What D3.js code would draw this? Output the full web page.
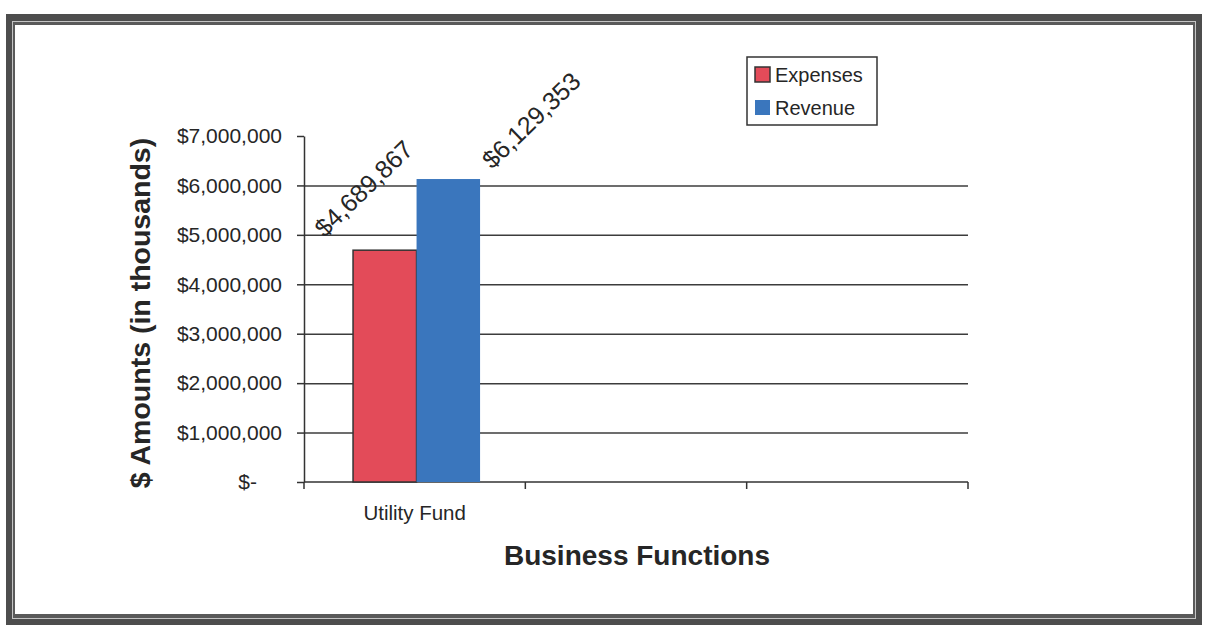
<!DOCTYPE html>
<html>
<head>
<meta charset="utf-8">
<title>Business Functions</title>
<script src="https://d3js.org/d3.v7.min.js"></script>
<style>
body { margin: 0; background: #fff; }
text { font-family: "Liberation Sans", Arial, sans-serif; fill: #262626; }
.axis path, .axis line { stroke: #333; stroke-width: 1.5; fill: none; }
.grid line { stroke: #3c3c3c; stroke-width: 1.5; }
.grid path { stroke-width: 0; }
</style>
</head>
<body>
<script>
// data
var categories = ["Utility Fund", "", ""];
var seriesNames = ["Expenses", "Revenue"];
var expenses = [4689867, null, null];
var revenue = [6129353, null, null];
var yTicks = [0, 1000000, 2000000, 3000000, 4000000, 5000000, 6000000, 7000000];
var colors = ["#e34b59", "#3a76bd"];

var W = 1205, H = 626;
var margin = {top: 136, right: 237, bottom: 144, left: 304},
    w = W - margin.left - margin.right,
    h = H - margin.top - margin.bottom;

var svg = d3.select("body").append("svg")
    .attr("width", W).attr("height", H);

// frame
svg.append("rect").attr("x", 6).attr("y", 14).attr("width", 1196).attr("height", 611).attr("fill", "#4d4d4d");
svg.append("rect").attr("x", 12).attr("y", 21).attr("width", 1184).attr("height", 598).attr("fill", "#c4c4c4");
svg.append("rect").attr("x", 13).attr("y", 22).attr("width", 1182).attr("height", 596).attr("fill", "#5a5a5a");
svg.append("rect").attr("x", 15).attr("y", 25).attr("width", 1178).attr("height", 589).attr("fill", "#fff");

var g = svg.append("g").attr("transform", "translate(" + margin.left + "," + margin.top + ")");

var idx = d3.range(categories.length);
var x = d3.scaleBand().domain(idx).range([0, w]);
var x1 = d3.scaleBand().domain(seriesNames).range([0, x.bandwidth()]).paddingOuter(0.7425).align(0.52);
var y = d3.scaleLinear().domain([0, 7000000]).range([h, 0]);

// gridlines (no line at the top value)
g.append("g").attr("class", "grid")
    .call(d3.axisLeft(y).tickValues(yTicks.filter(function(d) { return d > 0 && d < 7000000; }))
        .tickSize(-w).tickFormat(""));

// y axis
var fmt = d3.format(",");
var yAxis = g.append("g").attr("class", "axis")
    .call(d3.axisLeft(y).tickValues(yTicks).tickSize(7).tickPadding(15).tickSizeOuter(0)
        .tickFormat(function(d) { return d === 0 ? "$-" : "$" + fmt(d); }));
yAxis.selectAll("text").style("font-size", "21px").attr("fill", "#262626")
    .attr("dx", function(d) { return d === 0 ? -25 : 0; });

// x axis line + ticks at band edges
var xa = g.append("g").attr("class", "axis").attr("transform", "translate(0," + h + ")");
xa.append("line").attr("x1", 0).attr("x2", w);
var edges = idx.map(function(i) { return x(i); }).concat([w]);
xa.selectAll(".edge").data(edges).enter().append("line")
    .attr("x1", function(d) { return d; }).attr("x2", function(d) { return d; })
    .attr("y1", 0).attr("y2", 7);
xa.selectAll(".cat").data(idx).enter().append("text")
    .attr("x", function(i) { return x(i) + x.bandwidth() / 2; })
    .attr("y", 38).attr("text-anchor", "middle").style("font-size", "20.5px")
    .text(function(i) { return categories[i]; });

// bars
var rows = idx.map(function(i) {
  return [{s: "Expenses", v: expenses[i], c: colors[0]}, {s: "Revenue", v: revenue[i], c: colors[1]}];
});
var labelShift = {Expenses: [-60, -12], Revenue: [44, -9]};

var groups = g.selectAll(".cat-g").data(idx).enter().append("g")
    .attr("transform", function(i) { return "translate(" + x(i) + ",0)"; });
groups.selectAll("rect").data(function(i) { return rows[i].filter(function(d) { return d.v != null; }); })
  .enter().append("rect")
    .attr("x", function(d) { return x1(d.s); })
    .attr("width", x1.bandwidth())
    .attr("y", function(d) { return y(d.v); })
    .attr("height", function(d) { return h - y(d.v); })
    .attr("fill", function(d) { return d.c; })
    .attr("stroke", function(d) { return d.s === "Expenses" ? "#333" : "none"; })
    .attr("stroke-width", 1.5);

groups.selectAll(".lbl").data(function(i) { return rows[i].filter(function(d) { return d.v != null; }); })
  .enter().append("text")
    .attr("transform", function(d) {
      var cx = x1(d.s) + x1.bandwidth() / 2 + labelShift[d.s][0];
      var cy = y(d.v) + labelShift[d.s][1];
      return "translate(" + cx + "," + cy + ") rotate(-44)";
    })
    .style("font-size", "25px")
    .text(function(d) { return "$" + fmt(d.v); });

// axis titles
svg.append("text").attr("x", 637).attr("y", 565).attr("text-anchor", "middle")
    .style("font-size", "28px").style("font-weight", "bold").attr("fill", "#333")
    .text("Business Functions");
svg.append("text").attr("transform", "translate(150,313) rotate(-90)").attr("text-anchor", "middle")
    .style("font-size", "28.5px").style("font-weight", "bold").attr("fill", "#333")
    .text("$ Amounts (in thousands)");

// legend
var lg = svg.append("g").attr("transform", "translate(747,57)");
lg.append("rect").attr("width", 130).attr("height", 68).attr("fill", "#fff")
    .attr("stroke", "#333").attr("stroke-width", 1.5);
seriesNames.forEach(function(s, i) {
  lg.append("rect").attr("x", 8).attr("y", 10 + i * 33).attr("width", 15).attr("height", 15)
    .attr("fill", colors[i]).attr("stroke", i === 0 ? "#333" : "none").attr("stroke-width", 1.5);
  lg.append("text").attr("x", 28).attr("y", 25 + i * 33).style("font-size", "20px").text(s);
});
</script>
</body>
</html>
